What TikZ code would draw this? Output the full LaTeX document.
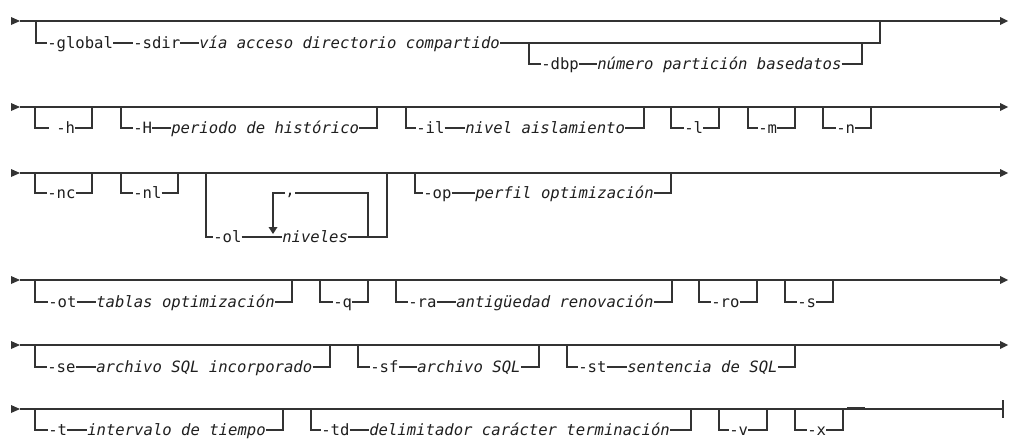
\documentclass[tikz,border=0pt]{standalone}
\usepackage{fontspec}
\setmonofont{DejaVu Sans Mono}
\definecolor{railgrey}{HTML}{333333}
\definecolor{textblack}{HTML}{1F1F1F}

\begin{document}
\begin{tikzpicture}[x=0.75pt,y=-0.75pt,
  track/.style={railgrey, line width=0.8pt},
  kw/.style={inner sep=0pt, text height=8.5pt, text depth=0pt, anchor=west,
    textblack, font=\ttfamily\fontsize{11.7}{14}\selectfont},
  var/.style={kw, font=\ttfamily\itshape\fontsize{11.7}{14}\selectfont}]
  \useasboundingbox (0,0) rectangle (1009,439);
  \fill[white] (0,0) rectangle (1009,439);

  % row 1
  \fill[railgrey] (11,17) -- (20,21) -- (11,25) -- cycle;
  \draw[track] (20,21) -- (1001,21);
  \fill[railgrey] (1000,17) -- (1008,21) -- (1000,25) -- cycle;
  \node[kw] (global) at (47,43) {-global};
  \node[kw] (sdir) at (133,43) {-sdir};
  \node[var] (dirpath) at (199,43) {vía acceso directorio compartido};
  \draw[track] (36,21) |- (global.west);
  \draw[track] (global.east) -- (sdir.west);
  \draw[track] (sdir.east) -- (dirpath.west);
  \draw[track] (dirpath.east) -| (880,21);
  \node[kw] (dbp) at (541,64) {-dbp};
  \node[var] (partnum) at (597,64) {número partición basedatos};
  \draw[track] (529,43) |- (dbp.west);
  \draw[track] (dbp.east) -- (partnum.west);
  \draw[track] (partnum.east) -| (862,43);

  % row 2
  \fill[railgrey] (11,103) -- (20,107) -- (11,111) -- cycle;
  \draw[track] (20,107) -- (1001,107);
  \fill[railgrey] (1000,103) -- (1008,107) -- (1000,111) -- cycle;
  \node[kw] (h) at (56,128) {-h};
  \coordinate (hgap) at (49,128);
  \draw[track] (35,107) |- (hgap);
  \draw[track] (h.east) -| (92,107);
  \node[kw] (H) at (133,128) {-H};
  \node[var] (period) at (171,128) {periodo de histórico};
  \draw[track] (121,107) |- (H.west);
  \draw[track] (H.east) -- (period.west);
  \draw[track] (period.east) -| (377,107);
  \node[kw] (il) at (416,128) {-il};
  \node[var] (isol) at (465,128) {nivel aislamiento};
  \draw[track] (406,107) |- (il.west);
  \draw[track] (il.east) -- (isol.west);
  \draw[track] (isol.east) -| (644,107);
  \node[kw] (l) at (684,128) {-l};
  \draw[track] (671,107) |- (l.west);
  \draw[track] (l.east) -| (719,107);
  \node[kw] (m) at (758,128) {-m};
  \draw[track] (748,107) |- (m.west);
  \draw[track] (m.east) -| (795,107);
  \node[kw] (n) at (836,128) {-n};
  \draw[track] (823,107) |- (n.west);
  \draw[track] (n.east) -| (871,107);

  % row 3
  \fill[railgrey] (11,169) -- (20,173) -- (11,177) -- cycle;
  \draw[track] (20,173) -- (1001,173);
  \fill[railgrey] (1000,169) -- (1008,173) -- (1000,177) -- cycle;
  \node[kw] (nc) at (47,193) {-nc};
  \draw[track] (35,173) |- (nc.west);
  \draw[track] (nc.east) -| (92,173);
  \node[kw] (nl) at (133,193) {-nl};
  \draw[track] (121,173) |- (nl.west);
  \draw[track] (nl.east) -| (178,173);
  \node[kw] (ol) at (213,237) {-ol};
  \node[var] (levels) at (282,237) {niveles};
  \draw[track] (206,173) |- (ol.west);
  \draw[track] (ol.east) -- (levels.west);
  \draw[track] (levels.east) -| (387,173);
  \node[kw, text height=4pt] (comma) at (285,193) {,};
  \coordinate (loopr) at (368,237);
  \draw[track] (loopr) |- (comma.east);
  \draw[track] (comma.west) -| (273,229);
  \fill[railgrey] (268.5,227) -- (277.5,227) -- (273,234) -- cycle;
  \node[kw] (op) at (423,193) {-op};
  \node[var] (profile) at (475,193) {perfil optimización};
  \draw[track] (415,173) |- (op.west);
  \draw[track] (op.east) -- (profile.west);
  \draw[track] (profile.east) -| (671,173);

  % row 4
  \fill[railgrey] (11,276) -- (20,280) -- (11,284) -- cycle;
  \draw[track] (20,280) -- (1001,280);
  \fill[railgrey] (1000,276) -- (1008,280) -- (1000,284) -- cycle;
  \node[kw] (ot) at (48,302) {-ot};
  \node[var] (tables) at (96,302) {tablas optimización};
  \draw[track] (35,280) |- (ot.west);
  \draw[track] (ot.east) -- (tables.west);
  \draw[track] (tables.east) -| (292,280);
  \node[kw] (q) at (333,302) {-q};
  \draw[track] (320,280) |- (q.west);
  \draw[track] (q.east) -| (368,280);
  \node[kw] (ra) at (408,302) {-ra};
  \node[var] (refresh) at (456,302) {antigüedad renovación};
  \draw[track] (396,280) |- (ra.west);
  \draw[track] (ra.east) -- (refresh.west);
  \draw[track] (refresh.east) -| (672,280);
  \node[kw] (ro) at (711,302) {-ro};
  \draw[track] (699,280) |- (ro.west);
  \draw[track] (ro.east) -| (757,280);
  \node[kw] (s) at (797,302) {-s};
  \draw[track] (785,280) |- (s.west);
  \draw[track] (s.east) -| (833,280);

  % row 5
  \fill[railgrey] (11,341) -- (20,345) -- (11,349) -- cycle;
  \draw[track] (20,345) -- (1001,345);
  \fill[railgrey] (1000,341) -- (1008,345) -- (1000,349) -- cycle;
  \node[kw] (se) at (47,367) {-se};
  \node[var] (embfile) at (96,367) {archivo SQL incorporado};
  \draw[track] (35,345) |- (se.west);
  \draw[track] (se.east) -- (embfile.west);
  \draw[track] (embfile.east) -| (330,345);
  \node[kw] (sf) at (370,367) {-sf};
  \node[var] (sqlfile) at (417,367) {archivo SQL};
  \draw[track] (358,345) |- (sf.west);
  \draw[track] (sf.east) -- (sqlfile.west);
  \draw[track] (sqlfile.east) -| (539,345);
  \node[kw] (st) at (578,367) {-st};
  \node[var] (stmt) at (627,367) {sentencia de SQL};
  \draw[track] (567,345) |- (st.west);
  \draw[track] (st.east) -- (stmt.west);
  \draw[track] (stmt.east) -| (795,345);

  % row 6
  \fill[railgrey] (11,405) -- (20,409) -- (11,413) -- cycle;
  \draw[track] (20,409) -- (1003,409);
  \draw[track] (1003,400) -- (1003,418);
  \draw[track, line width=1.2pt] (847,408) -- (865,408);
  \node[kw] (t) at (48,430) {-t};
  \node[var] (interval) at (87,430) {intervalo de tiempo};
  \draw[track] (35,409) |- (t.west);
  \draw[track] (t.east) -- (interval.west);
  \draw[track] (interval.east) -| (283,409);
  \node[kw] (td) at (321,430) {-td};
  \node[var] (delim) at (369,430) {delimitador carácter terminación};
  \draw[track] (311,409) |- (td.west);
  \draw[track] (td.east) -- (delim.west);
  \draw[track] (delim.east) -| (691,409);
  \node[kw] (v) at (729,430) {-v};
  \draw[track] (719,409) |- (v.west);
  \draw[track] (v.east) -| (767,409);
  \node[kw] (x) at (807,430) {-x};
  \draw[track] (795,409) |- (x.west);
  \draw[track] (x.east) -| (843,409);
\end{tikzpicture}
\end{document}
